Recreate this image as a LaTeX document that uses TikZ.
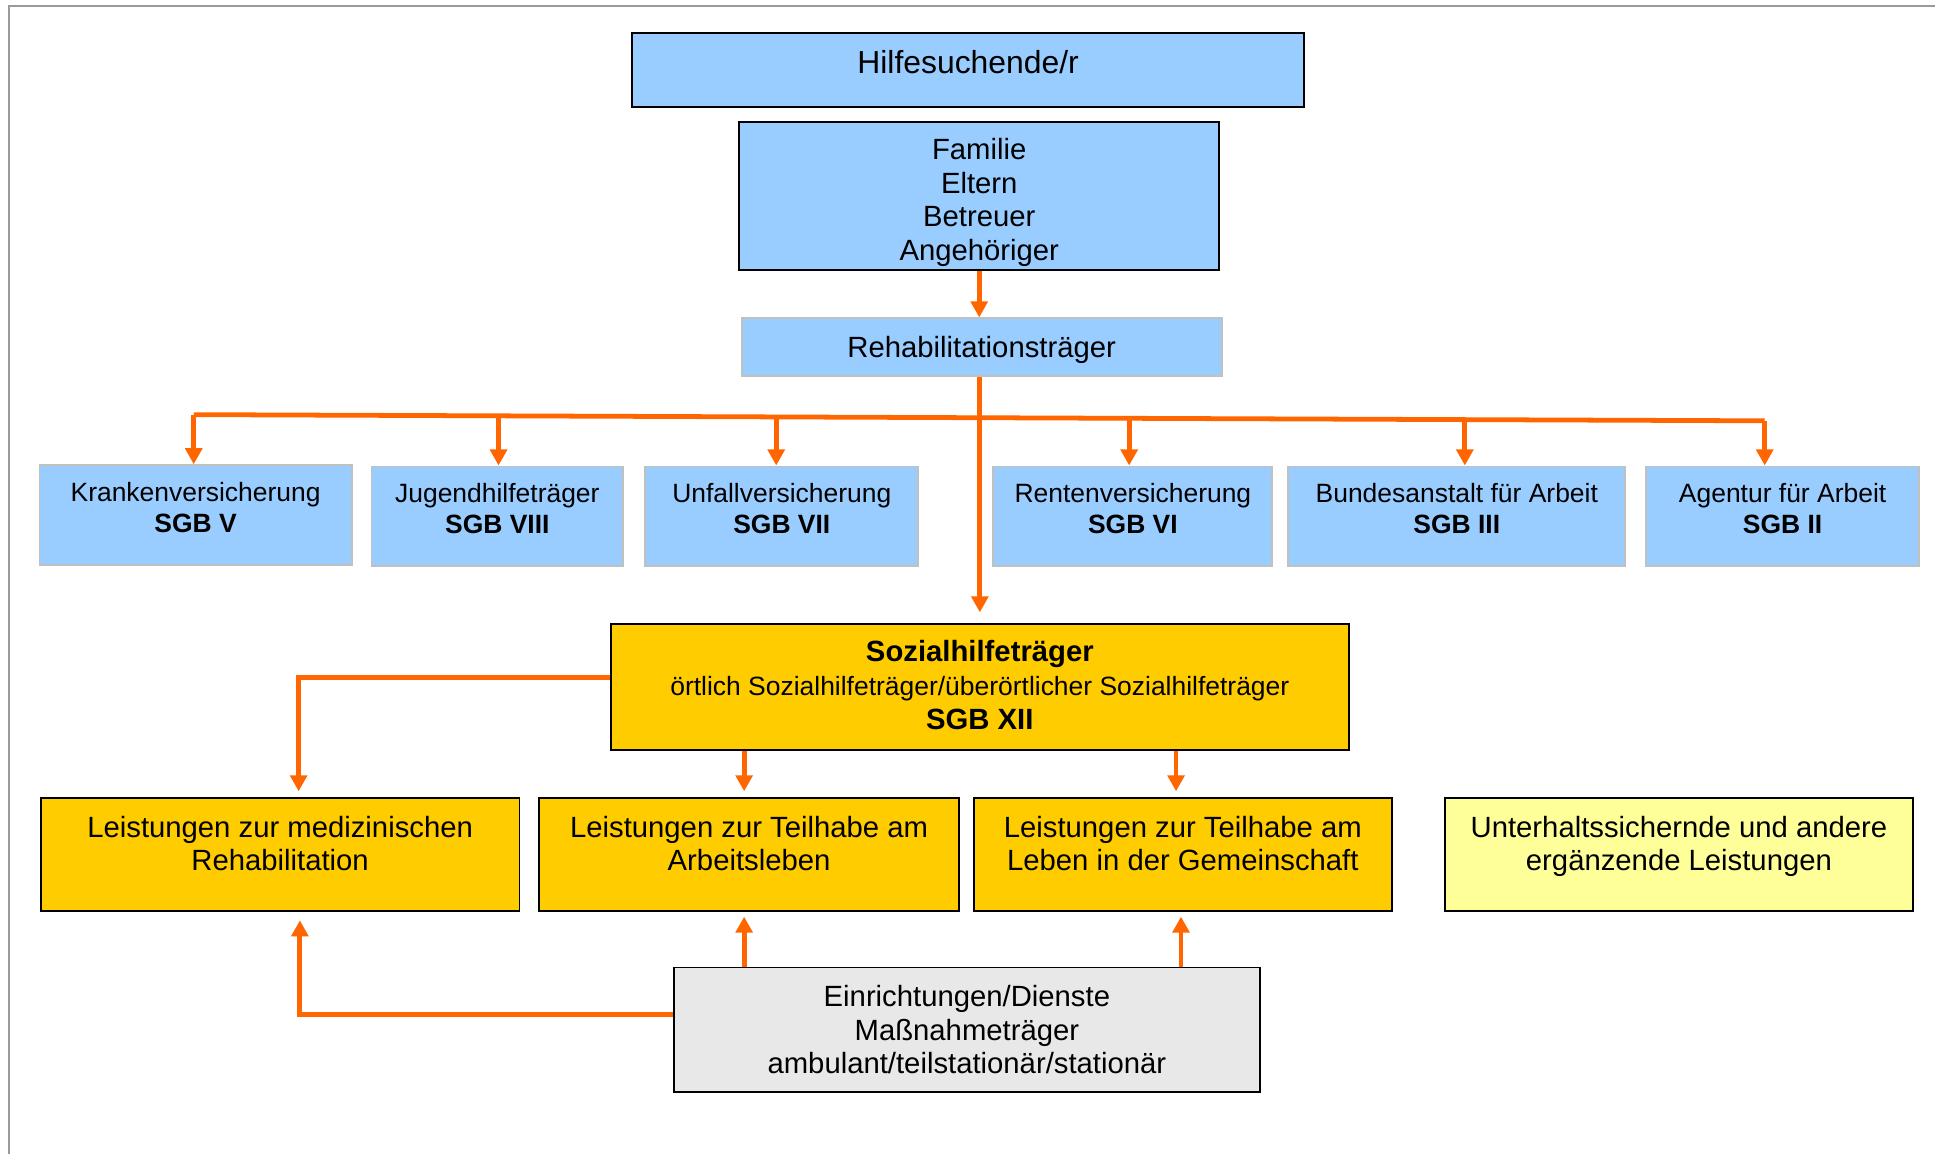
\documentclass[tikz,border=0pt]{standalone}
\usepackage{fontspec}
\setmainfont{Liberation Sans}
\usepackage{tikz}
\usetikzlibrary{arrows.meta}
\definecolor{hellblau}{HTML}{99CCFF}
\definecolor{sgbgelb}{HTML}{FFCC00}
\definecolor{hellgelb}{HTML}{FFFF99}
\definecolor{hellgrau}{HTML}{E8E8E8}
\definecolor{rahmen}{HTML}{C0C0C0}
\definecolor{pfeilfarbe}{HTML}{FF6600}
\newcommand{\tief}[1]{\rule[-#1]{0pt}{#1}}
\tikzstyle{kasten}=[draw=black,line width=0.9pt,align=center,inner sep=0,font=\fontsize{13.5}{15.5}\selectfont]
\tikzstyle{blau}=[kasten,fill=hellblau]
\tikzstyle{traeger}=[kasten,draw=rahmen,fill=hellblau,minimum height=1.62cm,font=\fontsize{12.2}{14.2}\selectfont]
\tikzstyle{gelb}=[kasten,fill=sgbgelb,minimum height=1.82cm]
\tikzstyle{linie}=[draw=pfeilfarbe,line width=2.2pt]
\tikzstyle{pfeil}=[linie,-{Triangle[length=0.26cm,width=0.27cm]}]

\begin{document}
\begin{tikzpicture}[x=0.02cm,y=-0.02cm]
 		\useasboundingbox (0,0) rectangle (1568,935);
 		\draw[rahmen!80!black,line width=0.9pt] (7,935) -- (7,5) -- (1568,5);

                        \node[blau,minimum width=10.9cm,minimum height=1.2cm,font=\fontsize{14.7}{16}\selectfont] (hs) at (784.5,57) {Hilfesuchende/r\tief{0.28cm}};
                        \node[blau,minimum width=7.78cm,minimum height=2.4cm] (fam) at (793.5,159) {\rule{0pt}{0.55cm}Familie\\Eltern\\Betreuer\\Angehöriger};
                        \node[blau,draw=rahmen,minimum width=7.78cm,minimum height=0.94cm] (reha) at (795.5,281.5) {\rule{0pt}{0.42cm}Rehabilitationsträger};

                        \node[traeger,minimum width=5.06cm] (kv) at (158.5,417.5) {Krankenversicherung\\\textbf{SGB V}\tief{0.26cm}};
                        \node[traeger,minimum width=4.08cm] (jh) at (403,418.5) {Jugendhilfeträger\\\textbf{SGB VIII}\tief{0.26cm}};
                        \node[traeger,minimum width=4.42cm] (uv) at (633.5,418.5) {Unfallversicherung\\\textbf{SGB VII}\tief{0.26cm}};
                        \node[traeger,minimum width=4.52cm] (rv) at (918,418.5) {Rentenversicherung\\\textbf{SGB VI}\tief{0.26cm}};
                        \node[traeger,minimum width=5.46cm] (ba) at (1180.5,418.5) {Bundesanstalt für Arbeit\\\textbf{SGB III}\tief{0.26cm}};
                        \node[traeger,minimum width=4.42cm] (aa) at (1444.5,418.5) {Agentur für Arbeit\\\textbf{SGB II}\tief{0.26cm}};

                        \node[kasten,fill=sgbgelb,minimum width=11.96cm,minimum height=2.04cm] (sh) at (794,557) {\textbf{Sozialhilfeträger}\\{\fontsize{12.2}{15}\selectfont örtlich Sozialhilfeträger/überörtlicher Sozialhilfeträger}\\\textbf{SGB XII}\tief{0.08cm}};

                        \node[gelb,minimum width=7.76cm] (med) at (227,692.5) {Leistungen zur medizinischen\\Rehabilitation\tief{0.36cm}};
                        \node[gelb,minimum width=6.8cm] (arb) at (607,692.5) {Leistungen zur Teilhabe am\\Arbeitsleben\tief{0.36cm}};
                        \node[gelb,minimum width=6.78cm] (gem) at (958.5,692.5) {Leistungen zur Teilhabe am\\Leben in der Gemeinschaft\tief{0.36cm}};
                        \node[gelb,fill=hellgelb,minimum width=7.58cm] (unt) at (1360.5,692.5) {Unterhaltssichernde und andere\\ergänzende Leistungen\tief{0.36cm}};

                        \node[kasten,fill=hellgrau,minimum width=9.5cm,minimum height=2.02cm] (ein) at (783.5,834.5) {Einrichtungen/Dienste\\Maßnahmeträger\\ambulant/teilstationär/stationär};

                        \coordinate (bl) at (157,336);
                        \coordinate (j2) at (404,337);
                        \coordinate (j3) at (629,338);
                        \coordinate (j4) at (915,339);
                        \coordinate (j5) at (1187,340);
                        \coordinate (br) at (1430,341);
                        \coordinate (k1) at (242,549);
                        \coordinate (k2) at (243,822);
                        \coordinate (k3) at (603,700);
                        \coordinate (k4) at (953,700);
                        \coordinate (k5) at (957,700);

                        \draw[linie] (bl) -- (br);

                        \draw[pfeil] (fam.south) -- (fam.south |- reha.north);
                        \draw[pfeil,shorten >=0.18cm] (sh.north |- reha.south) -- (sh.north);

                        \draw[pfeil] (bl) -- (bl |- kv.north);
                        \draw[pfeil] (j2) -- (j2 |- jh.north);
                        \draw[pfeil] (j3) -- (j3 |- uv.north);
                        \draw[pfeil] (j4) -- (j4 |- rv.north);
                        \draw[pfeil] (j5) -- (j5 |- ba.north);
                        \draw[pfeil] (br) -- (br |- aa.north);

                        \draw[pfeil,shorten >=0.1cm] (sh.west |- k1) -- (k1) -- (k1 |- med.north);
                        \draw[pfeil,shorten >=0.1cm] (k3 |- sh.south) -- (k3 |- arb.north);
                        \draw[pfeil,shorten >=0.1cm] (k4 |- sh.south) -- (k4 |- gem.north);

                        \draw[pfeil,shorten >=0.08cm] (k3 |- ein.north) -- (k3 |- arb.south);
                        \draw[pfeil,shorten >=0.08cm] (k5 |- ein.north) -- (k5 |- gem.south);
                        \draw[pfeil,shorten >=0.14cm] (ein.west |- k2) -- (k2) -- (k2 |- med.south);

\end{tikzpicture}
\end{document}
